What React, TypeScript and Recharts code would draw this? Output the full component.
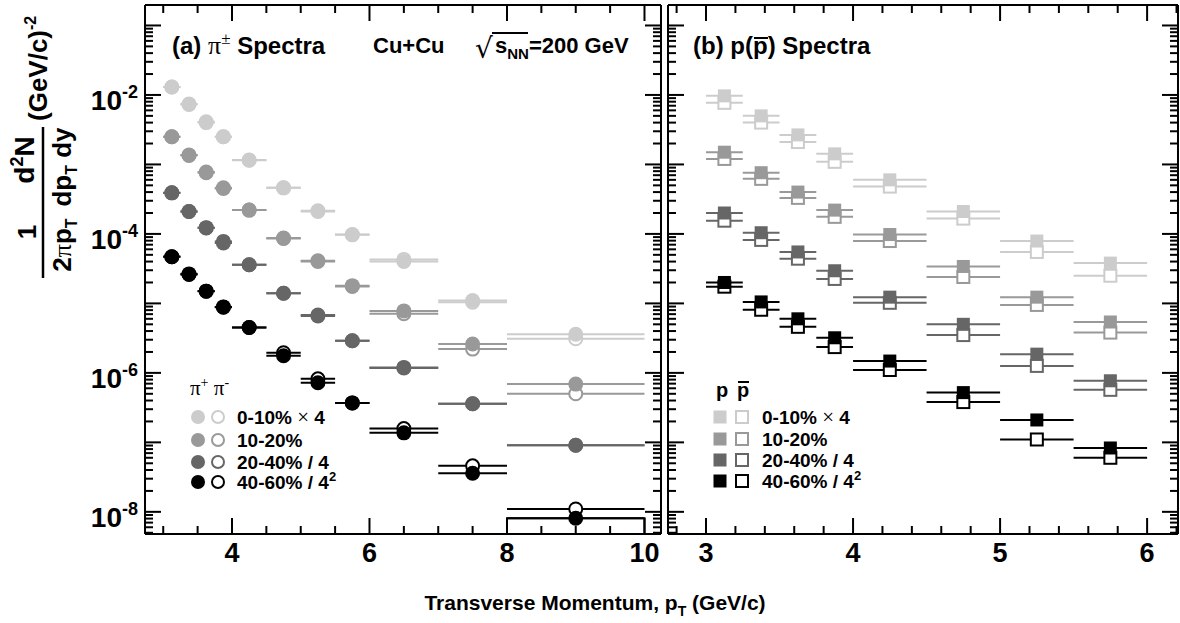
import React from 'react';
import { ScatterChart, Scatter, XAxis, YAxis, ErrorBar, ReferenceArea, ReferenceLine } from 'recharts';

const SANS = '"Liberation Sans", Arial, Helvetica, sans-serif';
const SERIF = '"Liberation Serif", "Times New Roman", serif';

const GRAY = ['#cccccc', '#999999', '#666666', '#000000'];

// shared log y range of both frames
const Y_MIN = 4.8e-9;
const Y_MAX = 0.197;
const DECADES = [1e-8, 1e-7, 1e-6, 1e-5, 1e-4, 1e-3, 1e-2, 1e-1];
const MINOR_MULT = [2, 3, 4, 5, 6, 7, 8, 9];
const Y_MINOR = [1e-9, ...DECADES]
  .flatMap((d) => MINOR_MULT.map((m) => m * d))
  .filter((v) => v > Y_MIN && v < Y_MAX);

// (a) pions
const PION_X_DOMAIN = [2.735, 10.24];
const PION_MAJOR = [4, 6, 8, 10];
const PION_MINOR = [3, 3.5, 4.5, 5, 5.5, 6.5, 7, 7.5, 8.5, 9, 9.5];
const pionPt = [3.125, 3.375, 3.625, 3.875, 4.25, 4.75, 5.25, 5.75, 6.5, 7.5, 9.0];
const pionHalfBin = [0.125, 0.125, 0.125, 0.125, 0.25, 0.25, 0.25, 0.25, 0.5, 0.5, 1.0];

const piPlus0010 = [1.3e-2, 7.4e-3, 4.1e-3, 2.5e-3, 1.16e-3, 4.6e-4, 2.1e-4, 9.8e-5, 4.0e-5, 1.1e-5, 3.6e-6];
const piMinus0010 = [1.3e-2, 7.3e-3, 4.0e-3, 2.5e-3, 1.15e-3, 4.6e-4, 2.15e-4, 9.7e-5, 4.3e-5, 1.04e-5, 3.1e-6];
const piPlus1020 = [2.5e-3, 1.37e-3, 7.8e-4, 4.6e-4, 2.2e-4, 8.7e-5, 4.0e-5, 1.8e-5, 7.8e-6, 2.6e-6, 6.9e-7];
const piMinus1020 = [2.5e-3, 1.35e-3, 7.6e-4, 4.5e-4, 2.2e-4, 8.6e-5, 4.1e-5, 1.75e-5, 7.1e-6, 2.2e-6, 5.0e-7];
const piPlus2040 = [3.9e-4, 2.1e-4, 1.23e-4, 7.4e-5, 3.6e-5, 1.4e-5, 6.6e-6, 2.9e-6, 1.18e-6, 3.6e-7, 9.1e-8];
const piMinus2040 = [3.9e-4, 2.1e-4, 1.22e-4, 7.8e-5, 3.6e-5, 1.4e-5, 6.8e-6, 2.9e-6, 1.2e-6, 3.6e-7, 9.1e-8];
const piPlus4060 = [4.7e-5, 2.66e-5, 1.5e-5, 8.9e-6, 4.5e-6, 1.76e-6, 7.2e-7, 3.7e-7, 1.37e-7, 3.6e-8, 8.1e-9];
const piMinus4060 = [4.7e-5, 2.6e-5, 1.5e-5, 8.8e-6, 4.5e-6, 1.95e-6, 8.2e-7, 3.7e-7, 1.58e-7, 4.6e-8, 1.1e-8];

// (b) protons
const PROTON_X_DOMAIN = [2.7415, 6.21];
const PROTON_MAJOR = [3, 4, 5, 6];
const PROTON_MINOR = [2.8, 3.2, 3.4, 3.6, 3.8, 4.2, 4.4, 4.6, 4.8, 5.2, 5.4, 5.6, 5.8, 6.2];
const protonPt = [3.125, 3.375, 3.625, 3.875, 4.25, 4.75, 5.25, 5.75];
const protonHalfBin = [0.125, 0.125, 0.125, 0.125, 0.25, 0.25, 0.25, 0.25];

const p0010 = [9.7e-3, 5.0e-3, 2.66e-3, 1.42e-3, 6.0e-4, 2.1e-4, 7.9e-5, 3.8e-5];
const pbar0010 = [7.7e-3, 4.0e-3, 2.1e-3, 1.09e-3, 4.8e-4, 1.66e-4, 5.5e-5, 2.5e-5];
const p1020 = [1.5e-3, 7.6e-4, 4.0e-4, 2.2e-4, 9.8e-5, 3.4e-5, 1.23e-5, 5.4e-6];
const pbar1020 = [1.2e-3, 6.2e-4, 3.3e-4, 1.76e-4, 7.9e-5, 2.4e-5, 9.5e-6, 3.8e-6];
const p2040 = [2.0e-4, 1.04e-4, 5.5e-5, 2.95e-5, 1.23e-5, 5.0e-6, 1.86e-6, 7.7e-7];
const pbar2040 = [1.55e-4, 8.2e-5, 4.4e-5, 2.25e-5, 1.02e-5, 3.5e-6, 1.26e-6, 5.7e-7];
const p4060 = [2.0e-5, 1.05e-5, 6.0e-6, 3.2e-6, 1.48e-6, 5.2e-7, 2.1e-7, 8.3e-8];
const pbar4060 = [1.74e-5, 8.1e-6, 4.6e-6, 2.35e-6, 1.1e-6, 3.8e-7, 1.1e-7, 6.0e-8];

type Series = { key: string; color: string; open: boolean; values: number[] };

const pionSeries: Series[] = [
  { key: 'pim0010', color: GRAY[0], open: true, values: piMinus0010 },
  { key: 'pip0010', color: GRAY[0], open: false, values: piPlus0010 },
  { key: 'pim1020', color: GRAY[1], open: true, values: piMinus1020 },
  { key: 'pip1020', color: GRAY[1], open: false, values: piPlus1020 },
  { key: 'pim2040', color: GRAY[2], open: true, values: piMinus2040 },
  { key: 'pip2040', color: GRAY[2], open: false, values: piPlus2040 },
  { key: 'pim4060', color: GRAY[3], open: true, values: piMinus4060 },
  { key: 'pip4060', color: GRAY[3], open: false, values: piPlus4060 },
];

const protonSeries: Series[] = [
  { key: 'pbar0010', color: GRAY[0], open: true, values: pbar0010 },
  { key: 'p0010', color: GRAY[0], open: false, values: p0010 },
  { key: 'pbar1020', color: GRAY[1], open: true, values: pbar1020 },
  { key: 'p1020', color: GRAY[1], open: false, values: p1020 },
  { key: 'pbar2040', color: GRAY[2], open: true, values: pbar2040 },
  { key: 'p2040', color: GRAY[2], open: false, values: p2040 },
  { key: 'pbar4060', color: GRAY[3], open: true, values: pbar4060 },
  { key: 'p4060', color: GRAY[3], open: false, values: p4060 },
];

const circleMarker = (color: string, open: boolean) => (props: any) => {
  const { cx, cy } = props;
  if (cx == null || cy == null) return <g />;
  return open ? (
    <circle cx={cx} cy={cy} r={6.5} fill="#fff" stroke={color} strokeWidth={2} />
  ) : (
    <circle cx={cx} cy={cy} r={7.5} fill={color} />
  );
};

const squareMarker = (color: string, open: boolean) => (props: any) => {
  const { cx, cy } = props;
  if (cx == null || cy == null) return <g />;
  return open ? (
    <rect x={cx - 6} y={cy - 6} width={12} height={12} fill="#fff" stroke={color} strokeWidth={2} />
  ) : (
    <rect x={cx - 6.5} y={cy - 6.5} width={13} height={13} fill={color} />
  );
};

const GAP = 20; // tickMargin: distance from axis line to the point handed to the label renderer
const MAJOR_LEN = 16;
const MINOR_LEN = 8;

const XLabel = (props: any) => {
  const { x, y, payload } = props;
  return (
    <text x={x} y={y + 8} textAnchor="middle" fontFamily={SANS} fontWeight="bold" fontSize={27} fill="#000">
      {String(payload.value)}
    </text>
  );
};

const YLabel = (props: any) => {
  const { x, y, payload } = props;
  const e = Math.round(Math.log10(payload.value));
  if (e % 2 !== 0) return <g />;
  return (
    <text x={x + GAP - 7} y={y + 15} textAnchor="end" fontFamily={SANS} fontWeight="bold" fontSize={28} fill="#000">
      10
      <tspan dy={-12} fontSize={18}>
        {String(e)}
      </tspan>
    </text>
  );
};

const frame = { stroke: '#000', strokeWidth: 2 };
// axes must have a non-zero size to be drawn; keep it tiny so they all sit on the frame
const THIN = 0.01;
const CHART_H = 623;

function Panel(props: {
  left: number;
  width: number;
  margin: { top: number; right: number; bottom: number; left: number };
  xDomain: number[];
  xMajor: number[];
  xMinor: number[];
  xs: number[];
  halfBins: number[];
  series: Series[];
  marker: (c: string, o: boolean) => (p: any) => React.ReactElement;
  yLabels: boolean;
  children?: React.ReactNode;
}) {
  const { left, width, margin, xDomain, xMajor, xMinor, xs, halfBins, series, marker, yLabels, children } = props;
  // pixel lengths of the inward tick marks expressed in data units of this frame
  const pxPerX = (width - margin.left - margin.right) / (xDomain[1] - xDomain[0]);
  const pxPerDecade = (CHART_H - margin.top - margin.bottom) / Math.log10(Y_MAX / Y_MIN);
  const up = (len: number) => Math.pow(10, len / pxPerDecade);
  const xMarks = [...xMajor.map((v) => ({ v, len: MAJOR_LEN })), ...xMinor.map((v) => ({ v, len: MINOR_LEN }))];
  const yMarks = [...DECADES.map((v) => ({ v, len: MAJOR_LEN })), ...Y_MINOR.map((v) => ({ v, len: MINOR_LEN }))];
  const ids = { xAxisId: 'main', yAxisId: 'main', stroke: '#000', strokeWidth: 2, ifOverflow: 'visible' as const };
  const yCommon = {
    type: 'number' as const,
    scale: 'log' as const,
    domain: [Y_MIN, Y_MAX],
    allowDataOverflow: true,
    width: THIN,
  };
  return (
    <div style={{ position: 'absolute', left, top: 0 }}>
      <ScatterChart width={width} height={CHART_H} margin={margin}>
        <XAxis
          xAxisId="main"
          dataKey="x"
          type="number"
          orientation="bottom"
          domain={xDomain}
          allowDataOverflow
          interval={0}
          height={THIN}
          ticks={xMajor}
          tick={XLabel}
          tickSize={0}
          tickMargin={GAP}
          tickLine={false}
          axisLine={frame}
        />
        <XAxis xAxisId="t" orientation="top" type="number" domain={xDomain} allowDataOverflow height={THIN} tick={false} tickLine={false} axisLine={frame} />
        <YAxis
          yAxisId="main"
          dataKey="y"
          orientation="left"
          {...yCommon}
          interval={0}
          ticks={DECADES}
          tick={yLabels ? YLabel : false}
          tickSize={0}
          tickMargin={GAP}
          tickLine={false}
          axisLine={frame}
        />
        <YAxis yAxisId="r" orientation="right" {...yCommon} tick={false} tickLine={false} axisLine={frame} />
        {xMarks.map(({ v, len }) => (
          <ReferenceLine key={'xb' + v} {...ids} segment={[{ x: v, y: Y_MIN }, { x: v, y: Y_MIN * up(len) }]} />
        ))}
        {xMarks.map(({ v, len }) => (
          <ReferenceLine key={'xt' + v} {...ids} segment={[{ x: v, y: Y_MAX / up(len) }, { x: v, y: Y_MAX }]} />
        ))}
        {yMarks.map(({ v, len }) => (
          <ReferenceLine key={'yl' + v} {...ids} segment={[{ x: xDomain[0], y: v }, { x: xDomain[0] + len / pxPerX, y: v }]} />
        ))}
        {yMarks.map(({ v, len }) => (
          <ReferenceLine key={'yr' + v} {...ids} segment={[{ x: xDomain[1] - len / pxPerX, y: v }, { x: xDomain[1], y: v }]} />
        ))}
        {children}
        {series.map((s) => (
          <Scatter
            key={s.key}
            xAxisId="main"
            yAxisId="main"
            data={xs.map((x, i) => ({ x, y: s.values[i], ex: halfBins[i] }))}
            shape={marker(s.color, s.open)}
            isAnimationActive={false}
          >
            <ErrorBar dataKey="ex" direction="x" width={0} stroke={s.color} strokeWidth={2} isAnimationActive={false} />
          </Scatter>
        ))}
      </ScatterChart>
    </div>
  );
}

const legendRowsPion = [417, 440, 462, 482];
const legendRowsProton = [417, 439, 460, 481];

function LegendText({ x, y, i }: { x: number; y: number; i: number }) {
  const common = { x, y, fontFamily: SANS, fontWeight: 'bold' as const, fontSize: 19, fill: '#000' };
  if (i === 0)
    return (
      <text {...common}>
        {'0-10% '}
        <tspan fontFamily={SERIF} fontWeight="normal" fontSize={21}>×</tspan>
        {' 4'}
      </text>
    );
  if (i === 1) return <text {...common}>10-20%</text>;
  if (i === 2) return <text {...common}>20-40% / 4</text>;
  return (
    <text {...common}>
      {'40-60% / 4'}
      <tspan dy={-8} fontSize={13}>2</tspan>
    </text>
  );
}

function Overlay() {
  return (
    <svg width={1180} height={623} style={{ position: 'absolute', left: 0, top: 0, pointerEvents: 'none' }}>
      {/* y axis title */}
      <g fontFamily={SANS} fontWeight="bold" fontSize={26} fill="#000">
        <text transform="translate(36,232) rotate(-90)" textAnchor="middle">1</text>
        <text transform="translate(71,245) rotate(-90)" textAnchor="middle">
          2<tspan fontFamily={SERIF} fontWeight="normal">π</tspan>p<tspan dy={6} fontSize={16}>T</tspan>
        </text>
        <text transform="translate(34,160) rotate(-90)" textAnchor="middle" fontSize={28}>
          d<tspan dy={-11} fontSize={18}>2</tspan>
          <tspan dy={11}>N</tspan>
        </text>
        <text transform="translate(71,167) rotate(-90)" textAnchor="middle">
          dp<tspan dy={6} fontSize={16}>T</tspan>
          <tspan dy={-6}>{' dy'}</tspan>
        </text>
        <text transform="translate(47,121) rotate(-90)">
          (GeV/c)<tspan dy={-11} fontSize={16}>-2</tspan>
        </text>
      </g>
      <line x1={43} y1={127} x2={43} y2={278} stroke="#000" strokeWidth={2.5} />

      {/* x axis title */}
      <text x={595} y={610} textAnchor="middle" fontFamily={SANS} fontWeight="bold" fontSize={21} fill="#000">
        Transverse Momentum, p<tspan dy={6} fontSize={14}>T</tspan>
        <tspan dy={-6}> (GeV/c)</tspan>
      </text>

      {/* panel (a) header */}
      <text x={172} y={54} fontFamily={SANS} fontWeight="bold" fontSize={24} fill="#000">
        {'(a) '}
        <tspan fontFamily={SERIF} fontWeight="normal" fontSize={26}>π</tspan>
        <tspan fontFamily={SERIF} fontWeight="normal" fontSize={17} dy={-10}>±</tspan>
        <tspan dy={10}>{' Spectra'}</tspan>
      </text>
      <text x={373} y={53} fontFamily={SANS} fontWeight="bold" fontSize={22} fill="#000">Cu+Cu</text>
      <text x={475} y={58} fontFamily="DejaVu Sans" fontSize={28} fill="#000">√</text>
      <line x1={492} y1={33} x2={528} y2={33} stroke="#000" strokeWidth={2} />
      <text x={495} y={53} fontFamily={SANS} fontWeight="bold" fontSize={22} fill="#000">
        s<tspan dy={6} fontSize={15}>NN</tspan>
        <tspan dy={-6}>=200 GeV</tspan>
      </text>

      {/* panel (b) header */}
      <text x={693} y={54} fontFamily={SANS} fontWeight="bold" fontSize={24} fill="#000">(b) p(p) Spectra</text>
      <line x1={754} y1={38} x2={768} y2={38} stroke="#000" strokeWidth={2} />

      {/* pion legend */}
      <text x={190} y={395} fontFamily={SERIF} fontSize={21} fill="#000">
        π<tspan dy={-8} fontSize={14}>+</tspan>
        <tspan dy={8}> π</tspan>
        <tspan dy={-8} fontSize={14}>-</tspan>
      </text>
      {legendRowsPion.map((y, i) => (
        <g key={'lpi' + i}>
          <circle cx={198} cy={y} r={7} fill={GRAY[i]} />
          <circle cx={218} cy={y} r={6} fill="#fff" stroke={GRAY[i]} strokeWidth={2} />
          <LegendText x={237} y={y + 7} i={i} />
        </g>
      ))}

      {/* proton legend */}
      <text x={716} y={397} fontFamily={SANS} fontWeight="bold" fontSize={20} fill="#000">p</text>
      <text x={737} y={397} fontFamily={SANS} fontWeight="bold" fontSize={20} fill="#000">p</text>
      <line x1={738} y1={382} x2={749} y2={382} stroke="#000" strokeWidth={2} />
      {legendRowsProton.map((y, i) => (
        <g key={'lp' + i}>
          <rect x={713.5} y={y - 6.5} width={13} height={13} fill={GRAY[i]} />
          <rect x={736} y={y - 6} width={12} height={12} fill="#fff" stroke={GRAY[i]} strokeWidth={2} />
          <LegendText x={762} y={y + 7} i={i} />
        </g>
      ))}
    </svg>
  );
}

export default function App() {
  return (
    <div style={{ position: 'absolute', left: 0, top: 0, width: 1180, height: 623, background: '#fff' }}>
      <Panel
        left={0}
        width={662}
        margin={{ top: 5, right: 1, bottom: 89, left: 145 }}
        xDomain={PION_X_DOMAIN}
        xMajor={PION_MAJOR}
        xMinor={PION_MINOR}
        xs={pionPt}
        halfBins={pionHalfBin}
        series={pionSeries}
        marker={circleMarker}
        yLabels
      >
        <ReferenceArea
          xAxisId="main"
          yAxisId="main"
          x1={pionPt[10] - pionHalfBin[10]}
          x2={pionPt[10] + pionHalfBin[10]}
          y1={Y_MIN}
          y2={piPlus4060[10]}
          fill="none"
          stroke="#000"
          strokeWidth={2}
          ifOverflow="visible"
        />
      </Panel>
      <Panel
        left={662}
        width={518}
        margin={{ top: 5, right: 2, bottom: 89, left: 6 }}
        xDomain={PROTON_X_DOMAIN}
        xMajor={PROTON_MAJOR}
        xMinor={PROTON_MINOR}
        xs={protonPt}
        halfBins={protonHalfBin}
        series={protonSeries}
        marker={squareMarker}
        yLabels={false}
      />
      <Overlay />
    </div>
  );
}
